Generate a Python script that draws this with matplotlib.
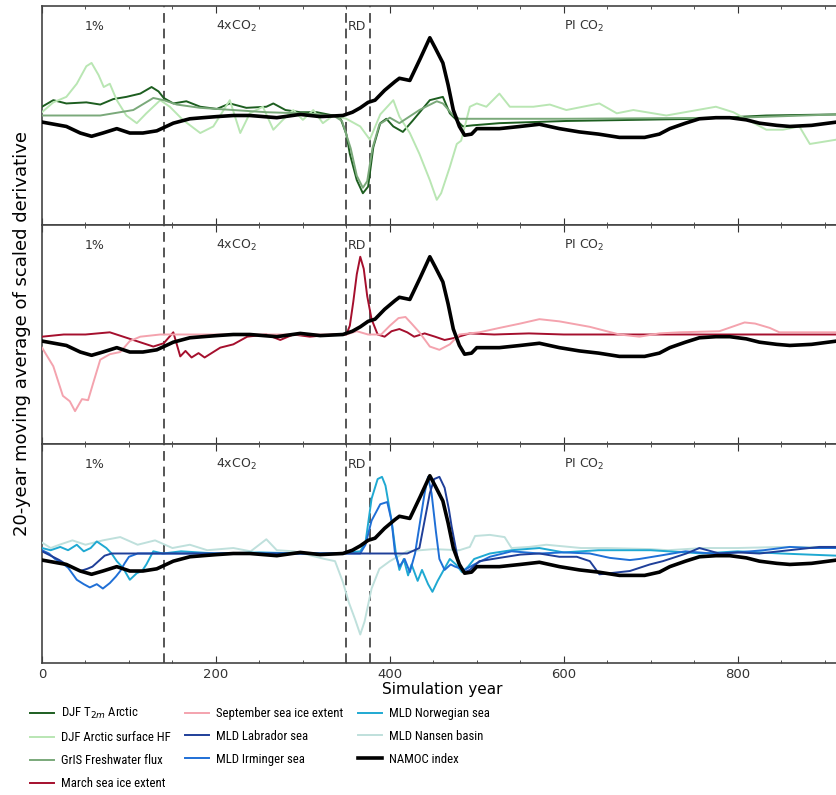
import matplotlib
matplotlib.use("Agg")
import matplotlib.pyplot as plt
from matplotlib.ticker import MultipleLocator
import matplotlib.transforms as mtransforms
from matplotlib import font_manager

# ---- data ----
namoc_yr = [0, 28, 44, 57, 70, 86, 101, 116, 132, 151, 170, 185, 201, 220, 239, 270, 297, 320, 346,
            357, 366, 375, 383, 394, 406, 411, 423, 435, 446, 452, 461, 467, 473, 480, 486, 494, 500,
            526, 550, 572, 595, 618, 640, 664, 693, 710, 722, 740, 756, 775, 791, 810, 825, 845, 860,
            885, 914]
namoc = [-0.06, -0.1, -0.16, -0.19, -0.16, -0.12, -0.16, -0.16, -0.14, -0.07, -0.03, -0.02, -0.01,
         0.0, 0.0, -0.02, 0.01, -0.01, 0.0, 0.03, 0.07, 0.12, 0.14, 0.23, 0.31, 0.34, 0.32, 0.52,
         0.71, 0.62, 0.48, 0.28, 0.05, -0.1, -0.18, -0.17, -0.12, -0.12, -0.1, -0.08, -0.12, -0.15,
         -0.17, -0.2, -0.2, -0.17, -0.12, -0.07, -0.03, -0.02, -0.02, -0.04, -0.07, -0.09, -0.1,
         -0.09, -0.06]

t2m_yr = [0, 13, 28, 51, 67, 82, 97, 113, 126, 134, 140, 151, 166, 182, 201, 216, 235, 258, 266,
          280, 297, 316, 335, 343, 350, 354, 362, 369, 375, 381, 389, 396, 404, 415, 426, 446, 461,
          469, 484, 495, 526, 603, 680, 756, 833, 914]
t2m = [0.08, 0.14, 0.11, 0.12, 0.1, 0.15, 0.17, 0.2, 0.26, 0.22, 0.16, 0.11, 0.13, 0.08, 0.06, 0.11,
       0.07, 0.08, 0.11, 0.05, 0.03, 0.03, 0.0, -0.02, -0.17, -0.35, -0.59, -0.71, -0.65, -0.29,
       -0.07, -0.03, -0.1, -0.15, -0.05, 0.14, 0.17, 0.02, -0.1, -0.09, -0.07, -0.05, -0.04, -0.03,
       0.0, 0.01]

hf_yr = [0, 13, 28, 40, 51, 57, 65, 71, 78, 86, 97, 109, 120, 136, 147, 162, 182, 197, 216, 228,
         239, 254, 266, 277, 289, 300, 312, 323, 335, 350, 366, 377, 389, 404, 411, 423, 434, 446,
         454, 459, 469, 477, 482, 492, 500, 511, 526, 538, 565, 584, 603, 641, 661, 680, 718, 775,
         795, 833, 852, 871, 883, 914]
hf = [0.03, 0.12, 0.17, 0.29, 0.45, 0.48, 0.37, 0.26, 0.29, 0.14, 0.0, -0.07, 0.02, 0.14, 0.08,
      -0.04, -0.16, -0.1, 0.14, -0.16, 0.02, 0.08, -0.13, -0.04, 0.05, -0.04, 0.05, -0.07, 0.0,
      -0.03, -0.1, -0.22, 0.01, 0.14, -0.01, -0.16, -0.35, -0.59, -0.77, -0.71, -0.47, -0.26, -0.23,
      0.08, 0.11, 0.08, 0.2, 0.08, 0.08, 0.1, 0.05, 0.11, 0.02, 0.05, 0.0, 0.08, 0.03, -0.13, -0.13,
      -0.1, -0.26, -0.22]

gris_yr = [0, 67, 105, 128, 140, 155, 182, 220, 258, 297, 335, 345, 355, 362, 369, 374, 380, 388,
           400, 411, 434, 454, 461, 473, 480, 495, 600, 800, 914]
gris = [0.0, 0.0, 0.05, 0.16, 0.14, 0.1, 0.07, 0.05, 0.03, 0.02, 0.0, -0.05, -0.3, -0.55, -0.66,
        -0.6, -0.3, -0.08, -0.02, -0.07, 0.05, 0.13, 0.11, 0.0, -0.03, -0.03, -0.03, -0.02, 0.01]

march_yr = [0, 25, 50, 78, 105, 128, 140, 151, 159, 165, 172, 180, 187, 193, 205, 220, 236, 258,
            274, 289, 308, 335, 350, 354, 358, 362, 366, 370, 374, 379, 386, 394, 402, 411, 420,
            428, 440, 452, 463, 475, 492, 520, 560, 600, 650, 700, 800, 914]
march = [-0.02, 0.0, 0.0, 0.02, -0.05, -0.11, -0.08, 0.02, -0.2, -0.15, -0.21, -0.17, -0.21, -0.18,
         -0.12, -0.09, -0.02, 0.0, -0.05, 0.0, -0.02, 0.0, 0.0, 0.08, 0.3, 0.55, 0.71, 0.6, 0.35,
         0.14, 0.0, -0.02, 0.03, 0.05, 0.02, -0.02, 0.01, -0.02, -0.05, -0.03, 0.01, 0.0, 0.01, 0.0,
         0.0, 0.0, 0.0, 0.0]

sept_yr = [0, 13, 24, 32, 38, 46, 53, 59, 67, 78, 90, 101, 113, 136, 200, 300, 350, 362, 375, 390,
           400, 410, 418, 425, 434, 446, 457, 469, 480, 503, 526, 550, 572, 595, 630, 664, 687, 710,
           733, 779, 808, 820, 837, 848, 870, 914]
sept = [-0.12, -0.29, -0.56, -0.61, -0.7, -0.59, -0.6, -0.44, -0.23, -0.18, -0.16, -0.06, -0.02,
        0.0, 0.0, 0.0, 0.0, 0.03, 0.0, 0.0, 0.08, 0.15, 0.16, 0.1, 0.02, -0.11, -0.14, -0.09, 0.0,
        0.02, 0.06, 0.1, 0.14, 0.12, 0.07, 0.0, -0.02, 0.01, 0.02, 0.03, 0.11, 0.1, 0.06, 0.02, 0.02,
        0.02]

lab_yr = [0, 10, 20, 28, 36, 44, 52, 58, 65, 72, 80, 150, 250, 340, 420, 434, 440, 446, 451, 457,
          463, 468, 471, 477, 480, 486, 492, 503, 526, 550, 572, 595, 615, 630, 641, 653, 676, 699,
          714, 741, 756, 779, 800, 825, 848, 871, 894, 914]
lab = [0.02, -0.02, -0.06, -0.1, -0.13, -0.16, -0.14, -0.12, -0.07, -0.02, 0.0, 0.0, 0.0, 0.0, 0.0,
       0.05, 0.3, 0.55, 0.68, 0.7, 0.6, 0.4, 0.25, 0.0, -0.12, -0.17, -0.15, -0.07, -0.04, -0.01,
       0.0, -0.03, -0.03, -0.07, -0.19, -0.18, -0.16, -0.1, -0.07, 0.0, 0.05, 0.0, 0.01, 0.0, 0.02,
       0.04, 0.06, 0.06]

irm_yr = [0, 8, 15, 22, 30, 40, 48, 55, 63, 70, 78, 85, 90, 95, 100, 110, 200, 300, 366, 372, 379,
          389, 397, 402, 406, 411, 417, 423, 429, 434, 440, 444, 448, 453, 457, 463, 470, 475, 486,
          497, 515, 540, 572, 600, 630, 653, 676, 687, 710, 740, 770, 800, 830, 860, 883, 914]
irm = [0.03, 0.0, -0.05, -0.08, -0.13, -0.24, -0.28, -0.31, -0.28, -0.32, -0.27, -0.21, -0.16,
       -0.09, -0.03, 0.0, 0.0, 0.0, 0.0, 0.08, 0.3, 0.45, 0.47, 0.3, 0.0, -0.12, -0.05, -0.17, 0.0,
       0.25, 0.55, 0.7, 0.55, 0.2, -0.05, -0.15, -0.1, -0.12, -0.15, -0.1, -0.03, 0.02, 0.0, 0.01,
       0.0, -0.04, -0.06, -0.05, -0.02, 0.02, 0.0, 0.01, 0.03, 0.06, 0.05, 0.05]

nor_yr = [0, 10, 21, 30, 40, 48, 56, 63, 74, 80, 86, 93, 101, 109, 115, 120, 128, 139, 160, 200, 250,
          300, 340, 366, 372, 379, 386, 391, 395, 402, 407, 411, 416, 421, 425, 432, 437, 444, 449,
          455, 462, 469, 476, 483, 490, 497, 515, 540, 572, 600, 640, 700, 760, 800, 850, 914]
nor = [0.05, 0.03, 0.06, 0.03, 0.08, 0.02, 0.05, 0.11, 0.05, 0.0, -0.07, -0.13, -0.24, -0.18, -0.16,
       -0.1, 0.02, 0.0, 0.02, 0.0, 0.01, 0.0, 0.0, 0.02, 0.1, 0.5, 0.68, 0.7, 0.62, 0.3, 0.0, -0.15,
       -0.05, -0.2, -0.1, -0.25, -0.15, -0.28, -0.35, -0.25, -0.15, -0.05, -0.1, -0.17, -0.12, -0.05,
       0.0, 0.03, 0.05, 0.01, 0.03, 0.03, 0.0, 0.02, 0.0, -0.02]

nan_yr = [0, 10, 20, 35, 50, 70, 90, 110, 130, 150, 170, 190, 220, 240, 258, 270, 290, 310, 325,
          337, 346, 353, 360, 366, 371, 379, 388, 400, 420, 450, 480, 492, 498, 515, 532, 540, 560,
          580, 620, 650, 700, 720, 760, 800, 850, 914]
nan = [0.1, 0.05, 0.08, 0.12, 0.08, 0.12, 0.15, 0.08, 0.12, 0.05, 0.08, 0.03, 0.05, 0.02, 0.13, 0.03,
       0.02, -0.02, -0.05, -0.07, -0.26, -0.45, -0.6, -0.74, -0.62, -0.32, -0.14, -0.07, 0.02, 0.04,
       0.03, 0.06, 0.16, 0.17, 0.15, 0.05, 0.06, 0.08, 0.05, 0.05, 0.04, 0.03, 0.05, 0.05, 0.06, 0.06]

phase_lines = [140, 350, 377]
phase_labels = ["1%", "4xCO$_2$", "RD", "PI CO$_2$"]
phase_label_x = [61, 224, 362, 624]

# narrow font for the legend, if one is around
names = {f.name for f in font_manager.fontManager.ttflist}
narrow = [n for n in ["Liberation Sans Narrow", "Roboto Condensed", "Open Sans Condensed",
                      "DejaVu Sans Condensed", "Noto Sans Condensed"] if n in names]
leg_family = narrow[0] if narrow else "DejaVu Sans"

# ---- figure ----
fig = plt.figure(figsize=(8.37, 7.95), dpi=100)
W, H = 837.0, 795.0
left = 42 / W
width = 800 / W
tops = [6, 225, 444]
ph = 219
axes = [fig.add_axes([left, 1 - (t + ph) / H, width, ph / H]) for t in tops]

panels = [
    [(t2m_yr, t2m, "#1d5e20", "DJF T$_{2m}$ Arctic"),
     (hf_yr, hf, "#b9e6b3", "DJF Arctic surface HF"),
     (gris_yr, gris, "#7aa97a", "GrIS Freshwater flux")],
    [(march_yr, march, "#a50f2d", "March sea ice extent"),
     (sept_yr, sept, "#f4a3ae", "September sea ice extent")],
    [(nan_yr, nan, "#bfe0dc", "MLD Nansen basin"),
     (nor_yr, nor, "#1fa9d2", "MLD Norwegian sea"),
     (irm_yr, irm, "#1f6fd6", "MLD Irminger sea"),
     (lab_yr, lab, "#1f3f99", "MLD Labrador sea")],
]

handles = {}
for ax, series in zip(axes, panels):
    for x, y, c, lab_ in series:
        h, = ax.plot(x, y, color=c, lw=1.4, zorder=3)
        handles[lab_] = h
    h, = ax.plot(namoc_yr, namoc, color="black", lw=2.6, zorder=5)
    handles["NAMOC index"] = h
    for xv in phase_lines:
        ax.axvline(xv, color="#555555", lw=1.4, ls=(0, (5, 3)), zorder=2)
    trans = mtransforms.blended_transform_factory(ax.transData, ax.transAxes)
    for xt, txt in zip(phase_label_x, phase_labels):
        ax.text(xt, 0.905, txt, transform=trans, ha="center", va="center",
                fontsize=9, color="#333333")
    ax.set_xlim(0, 920)
    ax.set_ylim(-1, 1)
    ax.set_yticks([])
    ax.xaxis.set_major_locator(MultipleLocator(200))
    ax.xaxis.set_minor_locator(MultipleLocator(50))
    ax.tick_params(axis="x", which="both", direction="in", top=True, bottom=True,
                   labelsize=9.5, colors="#333333")
    ax.tick_params(axis="x", which="major", length=5)
    ax.tick_params(axis="x", which="minor", length=2.5)
    for s in ax.spines.values():
        s.set_color("#444444")
        s.set_linewidth(1.2)
    if ax is not axes[-1]:
        ax.tick_params(axis="x", labelbottom=False)

axes[-1].set_xlabel("Simulation year", fontsize=11, labelpad=1)
fig.text(22 / W, 1 - 334 / H, "20-year moving average of scaled derivative",
         rotation=90, ha="center", va="center", fontsize=13)

order = ["DJF T$_{2m}$ Arctic", "DJF Arctic surface HF", "GrIS Freshwater flux",
         "March sea ice extent", "September sea ice extent", "MLD Labrador sea",
         "MLD Irminger sea", "MLD Norwegian sea", "MLD Nansen basin", "NAMOC index"]
fsize = 9.2 if narrow else 8.0
leg = fig.legend([handles[k] for k in order], order, loc="upper left",
                 bbox_to_anchor=(30 / W, 1 - 706 / H), ncol=3, frameon=False,
                 prop={"family": leg_family, "size": fsize},
                 handlelength=1.9, handletextpad=0.55, columnspacing=1.1, labelspacing=0.78,
                 borderaxespad=0, borderpad=0)

fig.savefig("out.png", dpi=100)
